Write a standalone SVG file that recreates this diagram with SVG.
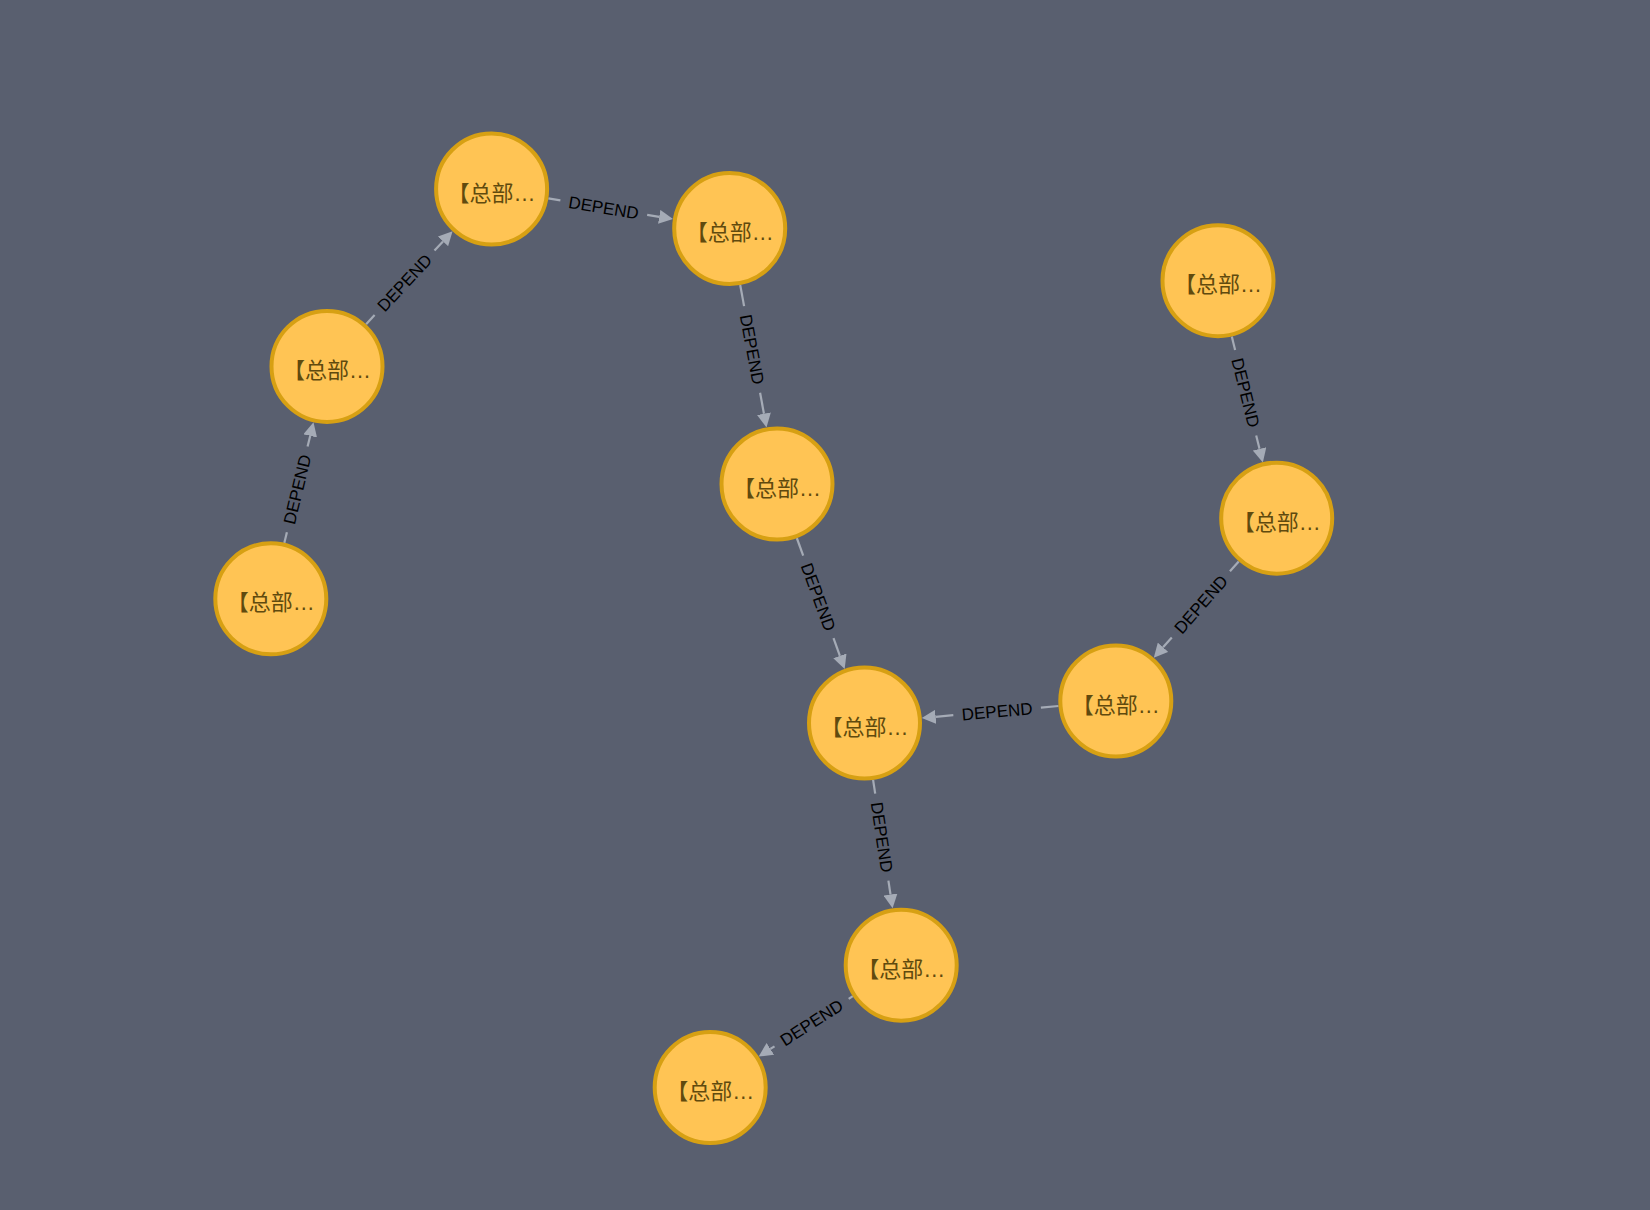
<svg xmlns="http://www.w3.org/2000/svg" width="1650" height="1210" viewBox="0 0 1650 1210">
<style>
.node circle{fill:#FFC454;stroke:#D7A013;stroke-width:4}
.node text{font-family:"Liberation Sans","Noto Sans CJK SC",sans-serif;font-size:22px;fill:#604A0E;text-anchor:middle}
.edges line{stroke:#A5ABB6;stroke-width:2.2;fill:none}
.edges text{font-family:"Liberation Sans",sans-serif;font-size:17px;fill:#000;text-anchor:middle}
</style>
<defs>
<marker id="arrow" markerUnits="userSpaceOnUse" markerWidth="14" markerHeight="14" viewBox="0 -7 14 14" refX="0" refY="0" orient="auto">
<path d="M0,-7 L14,0 L0,7 Z" fill="#A5ABB6"/>
</marker>
</defs>
<rect x="0" y="0" width="1650" height="1210" fill="#595F6F"/>
<g id="connectors" class="edges">
<g id="e1">
<line x1="284.3" y1="542.9" x2="286.9" y2="532.2"/>
<line x1="307.6" y1="446.6" x2="310.2" y2="435.9" marker-end="url(#arrow)"/>
<text x="297.25" y="489.4" dy="0.35em" transform="rotate(-76.4 297.25 489.4)">DEPEND</text>
</g>
<g id="e2">
<line x1="366.1" y1="324.25" x2="374.6" y2="315.1"/>
<line x1="434.5" y1="250.5" x2="443.0" y2="241.4" marker-end="url(#arrow)"/>
<text x="404.55" y="282.8" dy="0.35em" transform="rotate(-47.1 404.55 282.8)">DEPEND</text>
</g>
<g id="e3">
<line x1="548.3" y1="198.4" x2="560.35" y2="200.4"/>
<line x1="647.15" y1="214.8" x2="659.2" y2="216.8" marker-end="url(#arrow)"/>
<text x="603.75" y="207.6" dy="0.35em" transform="rotate(9.42 603.75 207.6)">DEPEND</text>
</g>
<g id="e4">
<line x1="740.2" y1="285.05" x2="744.1" y2="306.1"/>
<line x1="760.1" y1="392.7" x2="763.95" y2="413.7" marker-end="url(#arrow)"/>
<text x="752.1" y="349.4" dy="0.35em" transform="rotate(79.5 752.1 349.4)">DEPEND</text>
</g>
<g id="e5">
<line x1="796.8" y1="538.0" x2="803.2" y2="555.6"/>
<line x1="833.5" y1="638.2" x2="839.9" y2="655.85" marker-end="url(#arrow)"/>
<text x="818.35" y="596.9" dy="0.35em" transform="rotate(69.9 818.35 596.9)">DEPEND</text>
</g>
<g id="e6">
<line x1="873.1" y1="779.85" x2="875.2" y2="793.7"/>
<line x1="888.4" y1="880.7" x2="890.5" y2="894.5" marker-end="url(#arrow)"/>
<text x="881.8" y="837.2" dy="0.35em" transform="rotate(81.4 881.8 837.2)">DEPEND</text>
</g>
<g id="e7">
<line x1="852.8" y1="996.2" x2="848.7" y2="998.9"/>
<line x1="774.5" y1="1046.3" x2="770.4" y2="1048.95" marker-end="url(#arrow)"/>
<text x="811.6" y="1022.6" dy="0.35em" transform="rotate(-32.6 811.6 1022.6)">DEPEND</text>
</g>
<g id="e8">
<line x1="1231.8" y1="336.5" x2="1235.1" y2="349.9"/>
<line x1="1256.2" y1="435.4" x2="1259.5" y2="448.8" marker-end="url(#arrow)"/>
<text x="1245.65" y="392.65" dy="0.35em" transform="rotate(76.1 1245.65 392.65)">DEPEND</text>
</g>
<g id="e9">
<line x1="1238.7" y1="561.4" x2="1229.95" y2="571.3"/>
<line x1="1171.8" y1="637.4" x2="1163.05" y2="647.3" marker-end="url(#arrow)"/>
<text x="1200.9" y="604.35" dy="0.35em" transform="rotate(-48.65 1200.9 604.35)">DEPEND</text>
</g>
<g id="e10">
<line x1="1058.5" y1="706.0" x2="1040.9" y2="707.6"/>
<line x1="953.3" y1="715.2" x2="935.7" y2="716.8" marker-end="url(#arrow)"/>
<text x="997.1" y="711.4" dy="0.35em" transform="rotate(-5.0 997.1 711.4)">DEPEND</text>
</g>
</g>
<g id="n1" class="node"><circle cx="270.8" cy="598.8" r="55.5"/><text x="270.8" y="610.3">【总部…</text></g>
<g id="n2" class="node"><circle cx="327" cy="366.4" r="55.5"/><text x="327" y="377.9">【总部…</text></g>
<g id="n3" class="node"><circle cx="491.6" cy="189" r="55.5"/><text x="491.6" y="200.5">【总部…</text></g>
<g id="n4" class="node"><circle cx="729.7" cy="228.5" r="55.5"/><text x="729.7" y="240">【总部…</text></g>
<g id="n5" class="node"><circle cx="777" cy="484" r="55.5"/><text x="777" y="495.5">【总部…</text></g>
<g id="n6" class="node"><circle cx="864.5" cy="723" r="55.5"/><text x="864.5" y="734.5">【总部…</text></g>
<g id="n7" class="node"><circle cx="901.2" cy="965.2" r="55.5"/><text x="901.2" y="976.7">【总部…</text></g>
<g id="n8" class="node"><circle cx="710.2" cy="1087.5" r="55.5"/><text x="710.2" y="1099">【总部…</text></g>
<g id="n9" class="node"><circle cx="1218" cy="280.7" r="55.5"/><text x="1218" y="292.2">【总部…</text></g>
<g id="n10" class="node"><circle cx="1276.7" cy="518.2" r="55.5"/><text x="1276.7" y="529.7">【总部…</text></g>
<g id="n11" class="node"><circle cx="1115.8" cy="701" r="55.5"/><text x="1115.8" y="712.5">【总部…</text></g>
</svg>
